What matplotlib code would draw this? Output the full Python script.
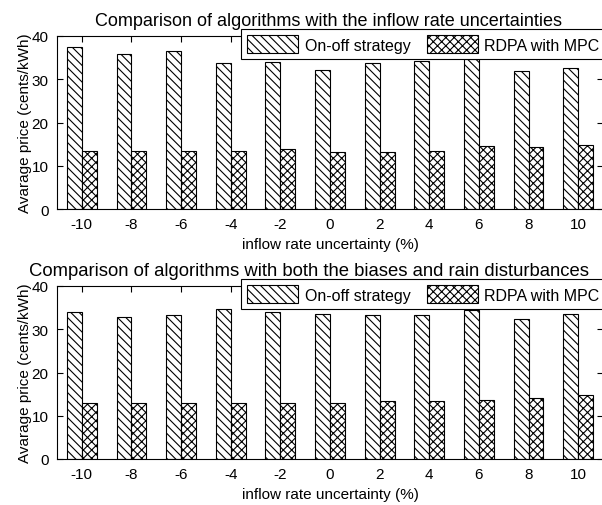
import numpy as np
import matplotlib
matplotlib.use("Agg")
import matplotlib.pyplot as plt

categories = [-10, -8, -6, -4, -2, 0, 2, 4, 6, 8, 10]
onoff_top = [37.5, 35.8, 36.6, 33.8, 34.1, 32.1, 33.8, 34.3, 34.7, 31.8, 32.6]
mpc_top = [13.5, 13.5, 13.5, 13.5, 13.8, 13.2, 13.2, 13.5, 14.6, 14.3, 14.9]
onoff_bot = [34.0, 32.9, 33.2, 34.6, 34.0, 33.5, 33.2, 33.2, 34.4, 32.4, 33.5]
mpc_bot = [12.9, 12.9, 12.9, 12.9, 12.9, 12.9, 13.4, 13.4, 13.7, 14.0, 14.9]
titles = ["Comparison of algorithms with the inflow rate uncertainties",
          "Comparison of algorithms with both the biases and rain disturbances"]
series_names = ["On-off strategy", "RDPA with MPC"]
xlabel = "inflow rate uncertainty (%)"
ylabel = "Avarage price (cents/kWh)"
yticks = [0, 10, 20, 30, 40]

plt.rcParams['font.family'] = ['Liberation Sans', 'DejaVu Sans']
plt.rcParams['hatch.linewidth'] = 0.8
plt.rcParams['axes.unicode_minus'] = False

fig = plt.figure(figsize=(6.02, 5.06), dpi=100)
W, H = 602, 506
def ax_rect(l, t, r, b):
    return [l / W, 1 - b / H, (r - l) / W, (b - t) / H]

axes = [fig.add_axes(ax_rect(57, 37, 603, 210)),
        fig.add_axes(ax_rect(57, 287, 603, 460))]
data = [(onoff_top, mpc_top), (onoff_bot, mpc_bot)]
title_x = [0.497, 0.462]
title_size = [13, 13.3]

x = np.array(categories, dtype=float)
bw = 0.6
for i, (ax, (a, b), title) in enumerate(zip(axes, data, titles)):
    ax.bar(x - bw / 2, a, bw, facecolor='white', edgecolor='black',
           hatch='\\\\\\\\', linewidth=0.8, label=series_names[0])
    ax.bar(x + bw / 2, b, bw, facecolor='white', edgecolor='black',
           hatch='xxxx', linewidth=0.8, label=series_names[1])
    ax.set_xlim(-11, 11)
    ax.set_ylim(0, 40)
    ax.set_xticks(categories)
    ax.set_yticks(yticks)
    ax.tick_params(direction='in', length=4, width=0.8, labelsize=11,
                   top=True, right=True, pad=6)
    for s in ax.spines.values():
        s.set_linewidth(0.8)
    ax.set_title(title, fontsize=title_size[i], pad=8, x=title_x[i])
    ax.set_xlabel(xlabel, fontsize=11, labelpad=4)
    ax.set_ylabel(ylabel, fontsize=11, labelpad=0)
    leg = ax.legend(loc='upper right', bbox_to_anchor=(1.005, 1.04), ncol=2,
                    fontsize=11.5, frameon=True, fancybox=False, framealpha=1,
                    edgecolor='black', handlelength=3.2, handleheight=1.3,
                    columnspacing=1.0, handletextpad=0.4, borderpad=0.4,
                    borderaxespad=0)
    leg.get_frame().set_linewidth(0.8)

fig.savefig("out.png", dpi=100)
